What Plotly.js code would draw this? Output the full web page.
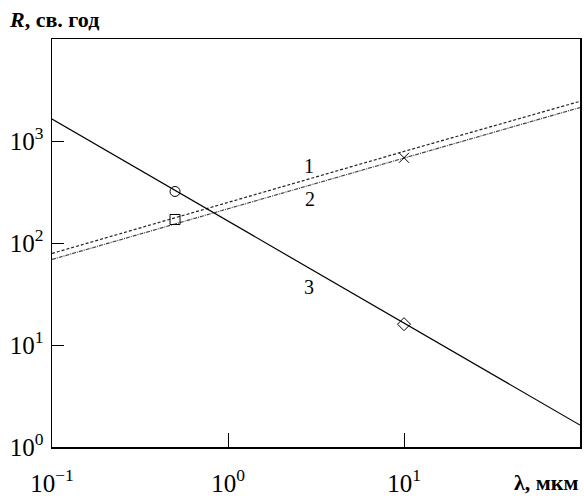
<!DOCTYPE html>
<html>
<head>
<meta charset="utf-8">
<script src="https://cdn.plot.ly/plotly-3.0.1.min.js"></script>
<style>
  html, body { margin: 0; padding: 0; background: #fff; }
  #chart { width: 584px; height: 496px; }
</style>
</head>
<body>
<div id="chart"></div>
<script>
// wavelength, um
var lambda = [0.1, 1, 10, 100];
// R, light years
var curve1 = [79, 250, 790, 2450];
var curve2 = [69, 215, 680, 2130];
var curve3 = [1640, 164, 16.4, 1.64];

var markX = [0.5, 0.5, 10, 10];
var markY = [320, 170, 685, 16];
var markSymbols = ['circle-open', 'square-open', 'x-thin-open', 'diamond-open'];

var xTickVals = [0.1, 1, 10];
var xTickText = ['10<sup>\u22121</sup>', '10<sup>0</sup>', '10<sup>1</sup>'];
var yTickVals = [1, 10, 100, 1000];
var yTickText = ['10<sup>0</sup>', '10<sup>1</sup>', '10<sup>2</sup>', '10<sup>3</sup>'];

var serif = '"Liberation Serif", "Times New Roman", serif';

var trace1 = {
  x: lambda, y: curve1, mode: 'lines', type: 'scatter',
  line: { color: '#222', width: 1.2, dash: '3px,2px' }
};
var trace2 = {
  x: lambda, y: curve2, mode: 'lines', type: 'scatter',
  line: { color: '#444', width: 1.2, dash: '4px,1px,1px,1px' }
};
var trace3 = {
  x: lambda, y: curve3, mode: 'lines', type: 'scatter',
  line: { color: '#000', width: 1.2 }
};
var marks = {
  x: markX, y: markY, mode: 'markers', type: 'scatter',
  marker: { symbol: markSymbols, size: 10, color: '#000', line: { color: '#000', width: 1 } }
};

var layout = {
  width: 584,
  height: 496,
  margin: { l: 52, r: 4, t: 39, b: 49 },
  showlegend: false,
  paper_bgcolor: '#fff',
  plot_bgcolor: '#fff',
  font: { family: serif, color: '#000', size: 25 },
  xaxis: {
    type: 'log',
    range: [-1, 2],
    tickmode: 'array',
    tickvals: xTickVals,
    ticktext: xTickText,
    ticks: 'inside',
    ticklen: 14,
    tickwidth: 1,
    tickcolor: '#000',
    ticklabelstandoff: 13,
    showgrid: false,
    zeroline: false,
    showline: true,
    linecolor: '#000',
    linewidth: 1.5,
    mirror: true,
    tickfont: { family: serif, size: 25 }
  },
  yaxis: {
    type: 'log',
    range: [0, 4],
    tickmode: 'array',
    tickvals: yTickVals,
    ticktext: yTickText,
    ticks: 'inside',
    ticklen: 12,
    tickwidth: 1,
    tickcolor: '#000',
    ticklabelstandoff: 2,
    showgrid: false,
    zeroline: false,
    showline: true,
    linecolor: '#000',
    linewidth: 1.5,
    mirror: true,
    tickfont: { family: serif, size: 25 }
  },
  annotations: [
    { xref: 'paper', yref: 'paper', x: -0.085, y: 1.0, yshift: 5, xanchor: 'left', yanchor: 'bottom',
      text: '<i>R</i>, св. год', showarrow: false, font: { family: serif, size: 22, weight: 'bold' } },
    { xref: 'paper', yref: 'paper', x: 1.0, y: 0, yshift: -21, xanchor: 'right', yanchor: 'top',
      text: '\u03bb, мкм', showarrow: false, font: { family: serif, size: 22, weight: 'bold' } },
    { x: 0.46, y: 2.756, text: '1', showarrow: false, font: { family: serif, size: 20 } },
    { x: 0.466, y: 2.434, text: '2', showarrow: false, font: { family: serif, size: 20 } },
    { x: 0.46, y: 1.566, text: '3', showarrow: false, font: { family: serif, size: 20 } }
  ]
};

Plotly.newPlot('chart', [trace1, trace2, trace3, marks], layout, { displayModeBar: false, staticPlot: true });
</script>
</body>
</html>
